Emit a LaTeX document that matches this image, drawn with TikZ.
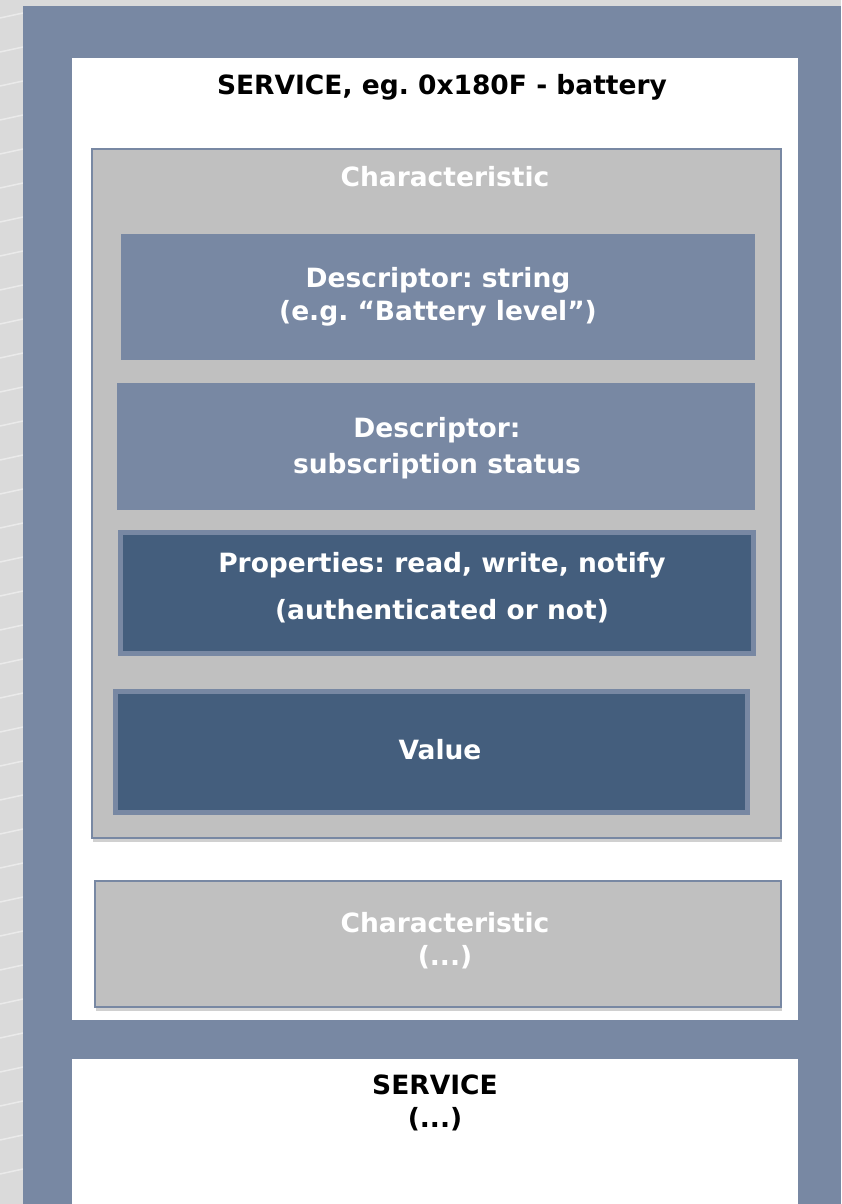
\documentclass[tikz,border=0pt]{standalone}
\usepackage{fontspec}
\setmainfont{DejaVu Sans}
\usetikzlibrary{shadows}
\definecolor{slate}{HTML}{7888A3}
\definecolor{darkslate}{HTML}{445E7D}
\definecolor{boxgray}{HTML}{C0C0C0}
\definecolor{paper}{HTML}{DADADA}
\frenchspacing
\tikzset{
	framestyle/.style={rectangle,fill=white,anchor=north west,inner sep=0},
	charstyle/.style={rectangle,draw=slate,line width=2pt,fill=boxgray,anchor=north west,inner sep=0,
		drop shadow={fill=black!60,opacity=0.3,shadow xshift=1pt,shadow yshift=-4pt}},
	descstyle/.style={rectangle,fill=slate,anchor=north west,inner sep=0},
	propstyle/.style={rectangle,draw=slate,line width=5pt,fill=darkslate,anchor=north west,inner sep=0},
	textstyle/.style={font=\bfseries\fontsize{26.5}{33}\selectfont,align=center,text=white}
}
\begin{document}
\begin{tikzpicture}[x=1pt,y=-1pt]
	\useasboundingbox (0,0) rectangle (841,1204);
	\fill[paper] (0,0) rectangle (841,1204);
	\foreach \y in {18,52,...,1204}
		\draw[white,opacity=0.45,line width=1.5pt] (0,\y) -- (23,\y-5);
	\fill[slate] (23,6) rectangle (841,1204);
	\node[framestyle,minimum width=726,minimum height=962] (svc1) at (72,58) {};
	\node[framestyle,minimum width=726,minimum height=145] (svc2) at (72,1059) {};
	\node[charstyle,minimum width=689,minimum height=689] (char1) at (91,148) {};
	\node[descstyle,minimum width=634,minimum height=126] (desc1) at (121,234) {};
	\node[descstyle,minimum width=638,minimum height=127] (desc2) at (117,383) {};
	\node[propstyle,minimum width=633,minimum height=121] (prop) at (117.5,529.5) {};
	\node[propstyle,minimum width=632,minimum height=121] (value) at (112.5,688.5) {};
	\node[charstyle,minimum width=686,minimum height=126] (char2) at (94,880) {};
	\node[textstyle,text=black] (svc1text) at (442,87) {SERVICE, eg. 0x180F - battery};
	\node[textstyle] (char1text) at (445,177) {Characteristic};
	\node[textstyle] (desc1text) at (438,296.5) {Descriptor: string\\(e.g. “Battery level”)};
	\node[textstyle] (desc2text) at (437,448) {Descriptor:\\[3pt]subscription status};
	\node[textstyle] (proptext) at (442,588) {Properties: read, write, notify\\[14pt](authenticated or not)};
	\node[textstyle] (valuetext) at (440,750) {Value};
	\node[textstyle] (char2text) at (445,941) {Characteristic\\(...)};
	\node[textstyle,text=black] (svc2text) at (435,1103) {SERVICE\\(...)};
\end{tikzpicture}
\end{document}
